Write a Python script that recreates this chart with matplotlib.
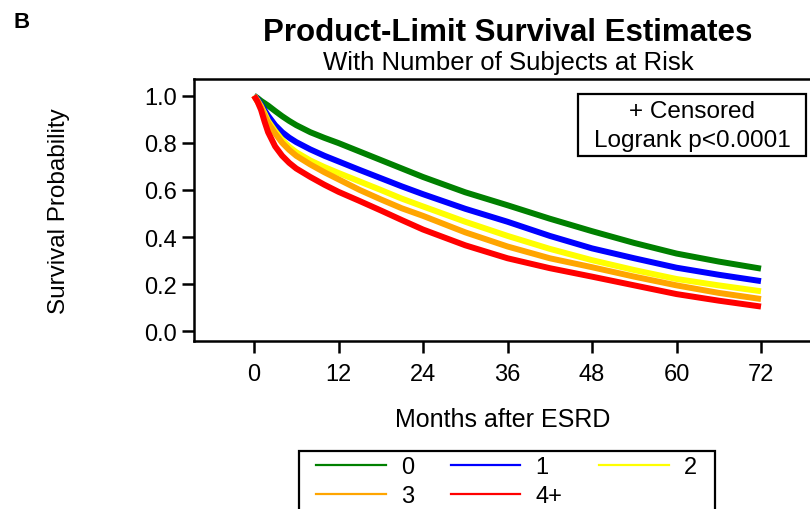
import numpy as np
import matplotlib.pyplot as plt
from matplotlib.lines import Line2D
from matplotlib.patches import Rectangle

plt.rcParams['font.family'] = ['Liberation Sans', 'DejaVu Sans']

# months after ESRD and survival estimates per group
months = [0, 0.5, 1, 1.5, 2, 3, 4, 5, 6, 8, 10, 12, 15, 18, 21, 24, 30, 36, 42, 48, 54, 60, 66, 72]
surv_0 = [1.0, 0.990, 0.978, 0.968, 0.958, 0.935, 0.913, 0.893, 0.875, 0.845, 0.821, 0.799,
          0.763, 0.727, 0.691, 0.655, 0.590, 0.535, 0.478, 0.425, 0.375, 0.330, 0.296, 0.266]
surv_1 = [1.0, 0.985, 0.962, 0.938, 0.915, 0.875, 0.845, 0.822, 0.803, 0.772, 0.745, 0.721,
          0.685, 0.650, 0.615, 0.582, 0.520, 0.465, 0.405, 0.352, 0.310, 0.270, 0.240, 0.213]
surv_2 = [1.0, 0.980, 0.955, 0.925, 0.893, 0.850, 0.812, 0.783, 0.760, 0.725, 0.697, 0.672,
          0.636, 0.600, 0.563, 0.530, 0.465, 0.405, 0.350, 0.302, 0.260, 0.222, 0.195, 0.170]
surv_3 = [1.0, 0.975, 0.950, 0.915, 0.885, 0.840, 0.800, 0.770, 0.745, 0.708, 0.675, 0.645,
          0.600, 0.560, 0.522, 0.490, 0.420, 0.360, 0.310, 0.272, 0.232, 0.195, 0.163, 0.137]
surv_4 = [1.0, 0.975, 0.940, 0.890, 0.845, 0.785, 0.745, 0.715, 0.691, 0.655, 0.622, 0.592,
          0.553, 0.513, 0.472, 0.432, 0.365, 0.310, 0.268, 0.232, 0.195, 0.158, 0.130, 0.105]

groups = ['0', '1', '2', '3', '4+']
series = [surv_0, surv_1, surv_2, surv_3, surv_4]
colors = ['#008000', '#0000ff', '#ffff00', '#ffa500', '#ff0000']
xticks = [0, 12, 24, 36, 48, 60, 72]
yticks = [0.0, 0.2, 0.4, 0.6, 0.8, 1.0]

W, H = 810, 510
fig = plt.figure(figsize=(W / 100, H / 100), dpi=100)

def fx(px):
    return px / W

def fy(py):
    return 1 - py / H

# axes box: left 194px, top 80px, bottom 342px, right just off the image
ax = fig.add_axes([fx(194), fy(342), fx(618), fy(80) - fy(342)])
px_per_month = 84.5 / 12
ax.set_xlim(-60 / px_per_month, 558 / px_per_month)
ax.set_ylim(-9.7 / 235.6, 1 + 16.7 / 235.6)

for s, c in zip(series, colors):
    ax.plot(months, s, color=c, lw=4.3, solid_joinstyle='round', solid_capstyle='butt')

ax.set_xticks(xticks)
ax.set_xticklabels([str(t) for t in xticks])
ax.set_yticks(yticks)
ax.set_yticklabels(['%.1f' % t for t in yticks])
ax.tick_params(direction='out', length=8.5, width=1.8, labelsize=17, pad=4)
ax.tick_params(axis='x', pad=7)
for sp in ax.spines.values():
    sp.set_linewidth(1.8)

ax.set_xlabel('Months after ESRD', fontsize=18, labelpad=16)
ax.set_ylabel('Survival Probability', fontsize=17.5, labelpad=53)

fig.text(fx(508), fy(33), 'Product-Limit Survival Estimates', ha='center', va='center',
         fontsize=22.5, fontweight='bold')
fig.text(fx(508), fy(63), 'With Number of Subjects at Risk', ha='center', va='center',
         fontsize=18.5)
fig.text(fx(13), fy(22), 'B', ha='left', va='center', fontsize=16, fontweight='bold')

# inset box
fig.patches.append(Rectangle((fx(578), fy(157)), fx(806) - fx(578), fy(95) - fy(157),
                             transform=fig.transFigure, fill=False, lw=1.6, ec='black'))
fig.text(fx(692), fy(112), '+ Censored', ha='center', va='center', fontsize=17.5)
fig.text(fx(692), fy(141), 'Logrank p<0.0001', ha='center', va='center', fontsize=17.5)

# legend
handles = [Line2D([], [], color=c, lw=1.6) for c in colors]
order = [0, 3, 1, 4, 2]
fig.legend([handles[i] for i in order], [groups[i] for i in order], ncol=3,
           loc='upper left', bbox_to_anchor=(fx(316), fy(457)), frameon=False,
           fontsize=17, handlelength=2.95, handletextpad=0.65, columnspacing=1.55,
           labelspacing=0.3, borderpad=0, borderaxespad=0)
fig.patches.append(Rectangle((fx(299), fy(530)), fx(715) - fx(299), fy(452) - fy(530),
                             transform=fig.transFigure, fill=False, lw=1.6, ec='black'))

fig.savefig('out.png', dpi=100)
